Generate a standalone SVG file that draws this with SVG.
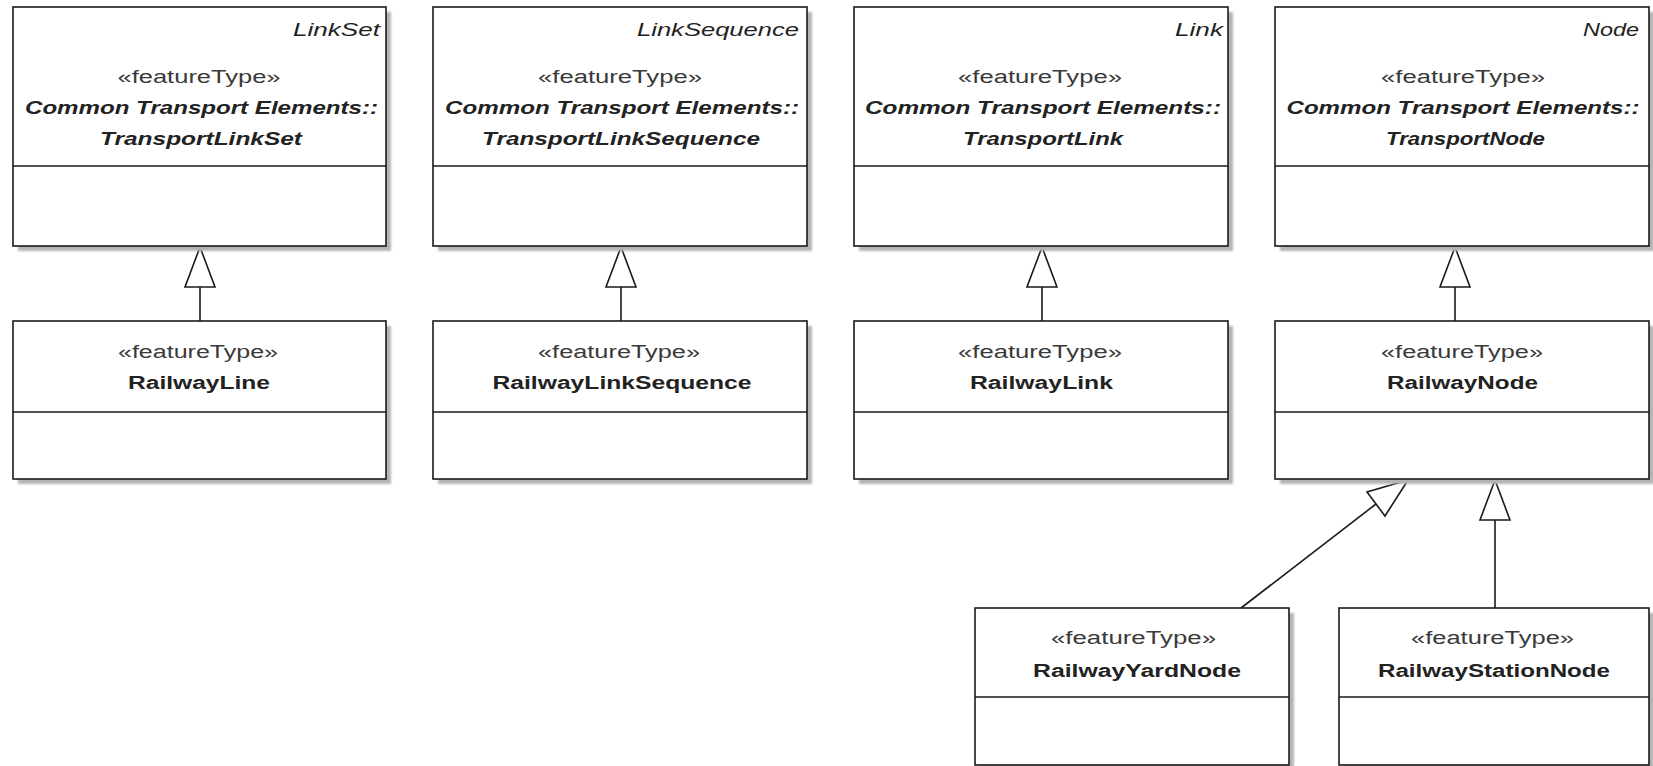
<svg xmlns="http://www.w3.org/2000/svg" width="1653" height="766" viewBox="0 0 1653 766">
  <style>
    .box { fill: #ffffff; stroke: #1a1a1a; stroke-width: 1.6; }
    .shadow { fill: #b4b4b4; filter: url(#soft); }
    .div { stroke: #1a1a1a; stroke-width: 1.4; }
    .t { font-family: "Liberation Sans", Arial, sans-serif; font-size: 18px; fill: #222222; text-anchor: middle; }
    .st { fill: #3a3a3a; }
    .it { font-style: italic; }
    .bi { font-style: italic; font-weight: bold; }
    .b { font-weight: bold; }
    .end { text-anchor: end; }
    .edge { stroke: #1a1a1a; stroke-width: 1.6; fill: none; }
    .head { stroke: #1a1a1a; stroke-width: 1.6; fill: #ffffff; stroke-linejoin: miter; }
  </style>
  <defs>
    <filter id="soft" x="-5%" y="-5%" width="110%" height="110%">
      <feGaussianBlur stdDeviation="1.2"/>
    </filter>
  </defs>
  <rect width="1653" height="766" fill="#ffffff"/>

  <!-- generalization connectors -->
  <g id="connectors">
    <line class="edge" x1="200" y1="287" x2="200" y2="321"/>
    <polygon class="head" points="200,247 185,287 215,287"/>
    <line class="edge" x1="621" y1="287" x2="621" y2="321"/>
    <polygon class="head" points="621,247 606,287 636,287"/>
    <line class="edge" x1="1042" y1="287" x2="1042" y2="321"/>
    <polygon class="head" points="1042,247 1027,287 1057,287"/>
    <line class="edge" x1="1455" y1="287" x2="1455" y2="321"/>
    <polygon class="head" points="1455,247 1440,287 1470,287"/>
    <line class="edge" x1="1241" y1="608" x2="1376" y2="504"/>
    <polygon class="head" points="1408,480 1367,492 1385,516"/>
    <line class="edge" x1="1495" y1="520" x2="1495" y2="608"/>
    <polygon class="head" points="1495,480 1480,520 1510,520"/>
  </g>

  <!-- top row: abstract transport elements -->
  <g id="TransportLinkSet">
    <rect class="shadow" x="18" y="12" width="373" height="239"/>
    <rect class="box" x="13" y="7" width="373" height="239"/>
    <line class="div" x1="13" y1="166" x2="386" y2="166"/>
    <text class="t it end" x="380" y="36" textLength="87" lengthAdjust="spacingAndGlyphs">LinkSet</text>
    <text class="t st" x="199" y="83" textLength="163" lengthAdjust="spacingAndGlyphs">«featureType»</text>
    <text class="t bi" x="201.5" y="114" textLength="353" lengthAdjust="spacingAndGlyphs">Common Transport Elements::</text>
    <text class="t bi" x="201" y="145" textLength="202" lengthAdjust="spacingAndGlyphs">TransportLinkSet</text>
  </g>
  <g id="TransportLinkSequence">
    <rect class="shadow" x="438" y="12" width="374" height="239"/>
    <rect class="box" x="433" y="7" width="374" height="239"/>
    <line class="div" x1="433" y1="166" x2="807" y2="166"/>
    <text class="t it end" x="799" y="36" textLength="162" lengthAdjust="spacingAndGlyphs">LinkSequence</text>
    <text class="t st" x="620" y="83" textLength="164" lengthAdjust="spacingAndGlyphs">«featureType»</text>
    <text class="t bi" x="622" y="114" textLength="354" lengthAdjust="spacingAndGlyphs">Common Transport Elements::</text>
    <text class="t bi" x="621" y="145" textLength="278" lengthAdjust="spacingAndGlyphs">TransportLinkSequence</text>
  </g>
  <g id="TransportLink">
    <rect class="shadow" x="859" y="12" width="374" height="239"/>
    <rect class="box" x="854" y="7" width="374" height="239"/>
    <line class="div" x1="854" y1="166" x2="1228" y2="166"/>
    <text class="t it end" x="1223" y="36" textLength="48" lengthAdjust="spacingAndGlyphs">Link</text>
    <text class="t st" x="1040" y="83" textLength="164" lengthAdjust="spacingAndGlyphs">«featureType»</text>
    <text class="t bi" x="1043" y="114" textLength="356" lengthAdjust="spacingAndGlyphs">Common Transport Elements::</text>
    <text class="t bi" x="1043" y="145" textLength="160" lengthAdjust="spacingAndGlyphs">TransportLink</text>
  </g>
  <g id="TransportNode">
    <rect class="shadow" x="1280" y="12" width="374" height="239"/>
    <rect class="box" x="1275" y="7" width="374" height="239"/>
    <line class="div" x1="1275" y1="166" x2="1649" y2="166"/>
    <text class="t it end" x="1639" y="36" textLength="56" lengthAdjust="spacingAndGlyphs">Node</text>
    <text class="t st" x="1463" y="83" textLength="164" lengthAdjust="spacingAndGlyphs">«featureType»</text>
    <text class="t bi" x="1463" y="114" textLength="353" lengthAdjust="spacingAndGlyphs">Common Transport Elements::</text>
    <text class="t bi" x="1465.5" y="145" textLength="159" lengthAdjust="spacingAndGlyphs">TransportNode</text>
  </g>

  <!-- middle row: railway feature types -->
  <g id="RailwayLine">
    <rect class="shadow" x="18" y="326" width="373" height="158"/>
    <rect class="box" x="13" y="321" width="373" height="158"/>
    <line class="div" x1="13" y1="412" x2="386" y2="412"/>
    <text class="t st" x="198" y="358" textLength="160" lengthAdjust="spacingAndGlyphs">«featureType»</text>
    <text class="t b" x="199" y="389" textLength="142" lengthAdjust="spacingAndGlyphs">RailwayLine</text>
  </g>
  <g id="RailwayLinkSequence">
    <rect class="shadow" x="438" y="326" width="374" height="158"/>
    <rect class="box" x="433" y="321" width="374" height="158"/>
    <line class="div" x1="433" y1="412" x2="807" y2="412"/>
    <text class="t st" x="619" y="358" textLength="162" lengthAdjust="spacingAndGlyphs">«featureType»</text>
    <text class="t b" x="622" y="389" textLength="259" lengthAdjust="spacingAndGlyphs">RailwayLinkSequence</text>
  </g>
  <g id="RailwayLink">
    <rect class="shadow" x="859" y="326" width="374" height="158"/>
    <rect class="box" x="854" y="321" width="374" height="158"/>
    <line class="div" x1="854" y1="412" x2="1228" y2="412"/>
    <text class="t st" x="1040" y="358" textLength="164" lengthAdjust="spacingAndGlyphs">«featureType»</text>
    <text class="t b" x="1041.5" y="389" textLength="143" lengthAdjust="spacingAndGlyphs">RailwayLink</text>
  </g>
  <g id="RailwayNode">
    <rect class="shadow" x="1280" y="326" width="374" height="158"/>
    <rect class="box" x="1275" y="321" width="374" height="158"/>
    <line class="div" x1="1275" y1="412" x2="1649" y2="412"/>
    <text class="t st" x="1462" y="358" textLength="162" lengthAdjust="spacingAndGlyphs">«featureType»</text>
    <text class="t b" x="1462.5" y="389" textLength="151" lengthAdjust="spacingAndGlyphs">RailwayNode</text>
  </g>

  <!-- bottom row: node specialisations -->
  <g id="RailwayYardNode">
    <rect class="shadow" x="980" y="613" width="314" height="157"/>
    <rect class="box" x="975" y="608" width="314" height="157"/>
    <line class="div" x1="975" y1="697" x2="1289" y2="697"/>
    <text class="t st" x="1133.5" y="644" textLength="165" lengthAdjust="spacingAndGlyphs">«featureType»</text>
    <text class="t b" x="1137" y="677" textLength="208" lengthAdjust="spacingAndGlyphs">RailwayYardNode</text>
  </g>
  <g id="RailwayStationNode">
    <rect class="shadow" x="1344" y="613" width="310" height="157"/>
    <rect class="box" x="1339" y="608" width="310" height="157"/>
    <line class="div" x1="1339" y1="697" x2="1649" y2="697"/>
    <text class="t st" x="1492.5" y="644" textLength="163" lengthAdjust="spacingAndGlyphs">«featureType»</text>
    <text class="t b" x="1494" y="677" textLength="232" lengthAdjust="spacingAndGlyphs">RailwayStationNode</text>
  </g>
</svg>
